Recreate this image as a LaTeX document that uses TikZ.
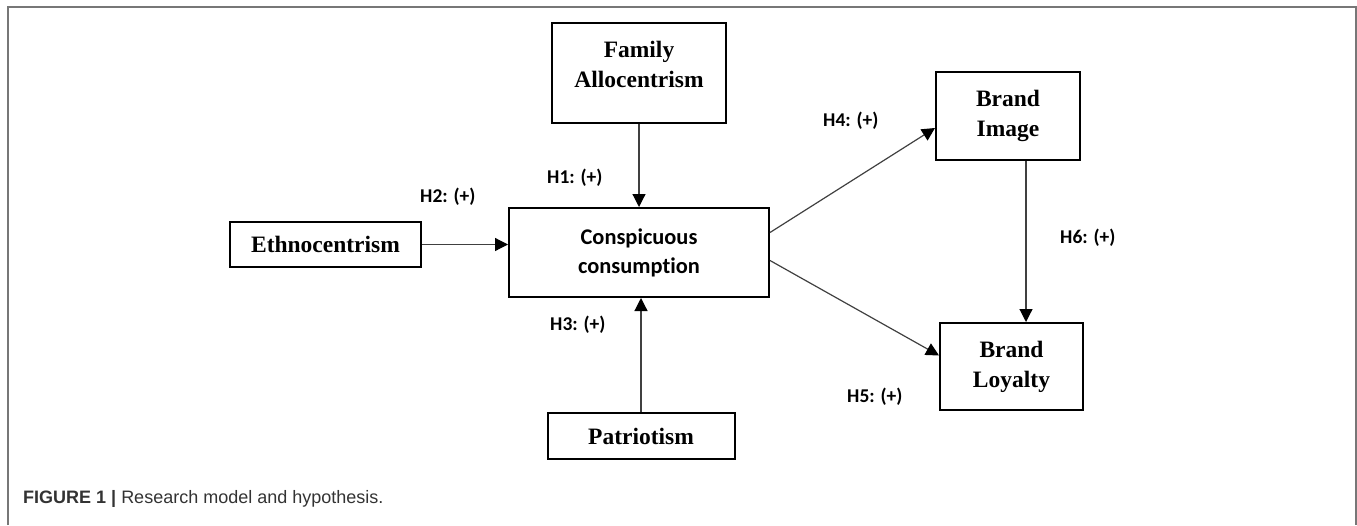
\documentclass[tikz,border=0pt]{standalone}
\usepackage{fontspec}
\usetikzlibrary{arrows.meta}
\newfontfamily\boxfont{Liberation Serif}
\newfontfamily\hypfont[Ligatures=NoCommon]{Carlito}
\newfontfamily\capfont{Liberation Sans}
\definecolor{framegray}{HTML}{777777}
\definecolor{arrgray}{HTML}{404040}
\definecolor{capgray}{HTML}{333333}

\begin{document}
\begin{tikzpicture}[x=1pt, y=-1pt,
  var/.style={draw, line width=2pt, align=center, inner sep=0pt, font=\boxfont\bfseries\fontsize{23.5}{30}\selectfont},
  arr/.style={draw=arrgray, line width=1.2pt, -{Triangle[length=13pt,width=13pt,color=black]}},
  hyp/.style={anchor=base west, inner sep=0pt, font=\hypfont\bfseries\fontsize{19.5}{24}\selectfont}]
\useasboundingbox (0,0) rectangle (1357,525);
\draw[framegray, line width=2pt] (7.5,525) -- (7.5,6.5) -- (1356,6.5) -- (1356,525);

\node[var, minimum width=174pt, minimum height=100pt, text depth=17pt] (fam) at (639,73) {Family\\Allocentrism};
\node[var, minimum width=191pt, minimum height=45pt] (eth) at (325.5,244.5) {Ethnocentrism};
\node[var, minimum width=260pt, minimum height=89pt, font=\hypfont\bfseries\fontsize{22.4}{29}\selectfont] (cc) at (639,252.5) {Conspicuous\\consumption};
\node[var, minimum width=187pt, minimum height=46pt] (pat) at (641,436) {Patriotism};
\node[var, minimum width=144pt, minimum height=88pt] (bimg) at (1008,116) {Brand\\Image};
\node[var, minimum width=143pt, minimum height=87pt] (bloy) at (1011.5,366.5) {Brand\\Loyalty};

\node[hyp] (h1) at (547,183) {H1: (+)};
\node[hyp] (h2) at (420,202) {H2: (+)};
\node[hyp] (h3) at (550,330) {H3: (+)};
\node[hyp] (h4) at (823,126) {H4: (+)};
\node[hyp] (h5) at (847,402) {H5: (+)};
\node[hyp] (h6) at (1060,243) {H6: (+)};

\draw[arr](fam.south) -- (fam.south |- cc.north);
\draw[arr](eth.east) -- (eth.east -| cc.west);
\draw[arr](pat.north) -- (pat.north |- cc.south);
\draw[arr]([yshift=20pt]cc.east) -- ([yshift=-12pt]bimg.west);
\draw[arr]([yshift=-8pt]cc.east) -- ([yshift=11pt]bloy.west);
\draw[arr]([xshift=18pt]bimg.south) -- ([xshift=18pt]bimg.south |- bloy.north);

\node[anchor=base west, inner sep=0pt, text=capgray, font=\capfont\fontsize{18}{21}\selectfont] (cap) at (23,503) {\textbf{FIGURE 1 |} Research model and hypothesis.};
\end{tikzpicture}
\end{document}
